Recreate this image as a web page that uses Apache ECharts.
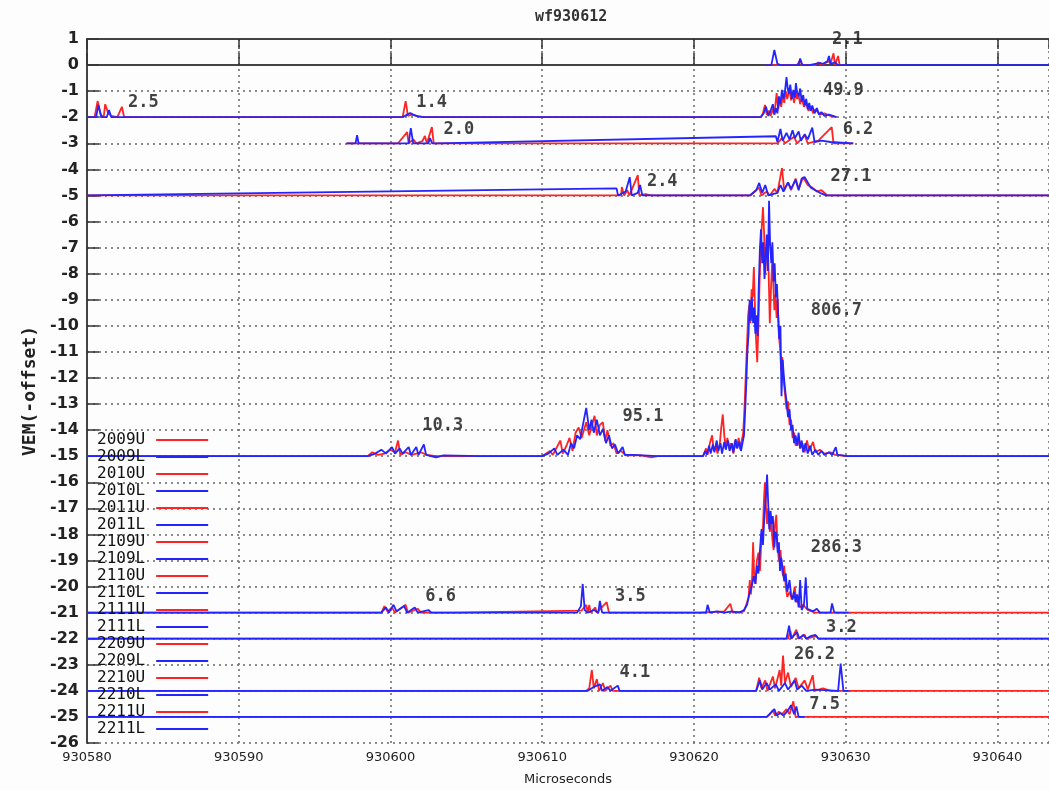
<!DOCTYPE html>
<html>
<head>
<meta charset="utf-8">
<script src="https://cdn.jsdelivr.net/npm/echarts@6/dist/echarts.min.js"></script>
<style>
html,body{margin:0;padding:0;background:#fff;}
#chart{width:1049px;height:791px;}
</style>
</head>
<body>
<div id="chart"></div>
<script>
// ---- station names (legend order) ----
const stations = ['2009','2010','2011','2109','2110','2111','2209','2210','2211'];

// ---- traces: [microseconds, VEM - offset] ----
const u2009 = [[930624.7,0],[930625.4,0],[930625.5,0.05],[930625.6,0],[930626.8,0],[930627.0,0.2],[930627.1,0],[930628.0,0],[930628.2,0.1],[930628.4,0],[930628.9,0.15],[930629.0,0.05],[930629.2,0.45],[930629.3,0],[930629.5,0.35],[930629.6,0],[930630.0,0]];
const l2009 = [[930624.7,0],[930625.1,0],[930625.3,0.58],[930625.5,0.05],[930625.7,0],[930626.9,0],[930627.0,0.25],[930627.15,0],[930627.6,0],[930628.0,0.05],[930628.3,0.08],[930628.5,0.05],[930628.8,0.15],[930628.9,0.35],[930629.0,0.05],[930629.3,0.1],[930629.5,0],[930644,0]];

const u2010 = [[930580,-2],[930580.5,-2],[930580.7,-1.38],[930580.9,-1.9],[930581.1,-2],[930581.2,-1.5],[930581.4,-1.85],[930581.6,-1.95],[930582.0,-2],[930582.3,-1.6],[930582.45,-2],[930582.6,-2],
  [930600.8,-2],[930601.0,-1.38],[930601.15,-1.95],[930601.4,-1.9],[930601.7,-1.95],[930602.2,-2],
  [930624.4,-2],[930624.55,-1.85],[930624.68,-1.53],[930624.8,-1.9],[930624.95,-1.75],[930625.05,-1.95],[930625.2,-1.7],[930625.3,-1.9],[930625.45,-1.07],[930625.55,-1.7],[930625.65,-1.4],[930625.75,-1.6],[930625.85,-1.2],[930625.95,-1.45],[930626.05,-1.0],[930626.15,-1.3],[930626.3,-0.9],[930626.4,-1.35],[930626.5,-1.1],[930626.6,-1.45],[930626.7,-1.0],[930626.8,-1.3],[930626.9,-1.15],[930627.0,-1.5],[930627.1,-1.25],[930627.25,-1.6],[930627.4,-1.45],[930627.55,-1.75],[930627.7,-1.6],[930627.85,-1.85],[930628.0,-1.7],[930628.3,-1.9],[930628.6,-1.85],[930629.0,-1.95],[930629.4,-2]];
const l2010 = [[930580,-2],[930580.6,-2],[930580.75,-1.53],[930580.95,-2],[930581.3,-2],[930581.45,-1.72],[930581.6,-2],[930582.6,-2],
  [930600.8,-2],[930601.1,-1.9],[930601.3,-1.84],[930601.5,-1.9],[930601.8,-1.97],[930602.2,-2],
  [930624.4,-2],[930624.6,-1.85],[930624.75,-1.6],[930624.9,-1.95],[930625.05,-1.75],[930625.2,-1.5],[930625.3,-1.9],[930625.4,-1.65],[930625.5,-1.85],[930625.6,-1.2],[930625.7,-1.5],[930625.8,-0.95],[930625.9,-1.3],[930626.0,-1.0],[930626.1,-0.46],[930626.18,-0.9],[930626.25,-1.1],[930626.35,-0.75],[930626.45,-1.3],[930626.55,-0.95],[930626.65,-1.25],[930626.72,-0.69],[930626.8,-1.05],[930626.9,-1.2],[930627.0,-0.9],[930627.1,-1.4],[930627.2,-1.15],[930627.3,-1.55],[930627.4,-1.3],[930627.5,-1.7],[930627.6,-1.45],[930627.7,-1.75],[930627.8,-1.55],[930627.95,-1.85],[930628.1,-1.65],[930628.25,-1.9],[930628.4,-1.8],[930628.6,-1.95],[930628.9,-1.9],[930629.4,-2]];

const u2011 = [[930597.1,-3],[930597.7,-3],[930598.2,-3],[930600.5,-3],[930601.1,-2.57],[930601.2,-3],[930601.5,-2.85],[930601.7,-3],[930602.1,-2.92],[930602.27,-2.72],[930602.4,-3],[930602.73,-2.38],[930602.85,-3],[930603.1,-3],
  [930625.5,-3],[930625.8,-2.8],[930626.0,-3],[930626.6,-2.75],[930626.8,-3],[930627.3,-2.7],[930627.5,-3],[930628.2,-2.9],[930629.08,-2.38],[930629.2,-3],[930630.5,-3]];
const l2011 = [[930597.1,-3],[930597.7,-3],[930597.8,-2.69],[930597.9,-3],[930601.2,-3],[930601.34,-2.42],[930601.5,-3],[930602.5,-3],[930602.6,-2.8],[930602.75,-3],[930603.1,-3],
  [930625.4,-2.73],[930625.5,-2.95],[930625.7,-2.45],[930625.85,-2.9],[930626.1,-2.6],[930626.3,-2.85],[930626.5,-2.5],[930626.65,-2.8],[930626.9,-2.55],[930627.05,-2.9],[930627.3,-2.65],[930627.5,-2.85],[930627.8,-2.4],[930627.95,-2.95],[930628.4,-2.9],[930629.0,-2.95],[930630.5,-3]];

const u2109 = [[930580,-5],[930615.2,-5],[930615.25,-4.68],[930615.4,-5],[930615.6,-4.8],[930615.75,-5],[930616.3,-4.22],[930616.4,-5],[930616.8,-4.95],[930617.2,-5],
  [930623.7,-5],[930624.0,-4.85],[930624.3,-4.7],[930624.45,-5],[930624.8,-4.85],[930625.0,-5],[930625.3,-4.75],[930625.5,-4.9],[930625.8,-3.95],[930625.95,-4.8],[930626.2,-4.5],[930626.4,-4.8],[930626.7,-4.35],[930626.9,-4.75],[930627.2,-4.3],[930627.5,-4.6],[930627.8,-4.7],[930628.1,-4.85],[930628.4,-4.8],[930628.8,-5],[930644,-5]];
const l2109 = [[930580,-5],[930614.9,-4.73],[930615.0,-5],[930615.5,-4.85],[930615.77,-4.3],[930615.9,-5],[930616.3,-4.9],[930616.45,-4.6],[930616.6,-5],[930617.2,-5],
  [930623.7,-5],[930624.1,-4.8],[930624.3,-4.52],[930624.5,-4.9],[930624.7,-4.6],[930624.9,-5],[930625.5,-4.9],[930625.7,-4.6],[930625.9,-4.85],[930626.2,-4.5],[930626.4,-4.75],[930626.7,-4.4],[930626.9,-4.8],[930627.1,-4.35],[930627.3,-4.3],[930627.5,-4.5],[930627.7,-4.7],[930628.0,-4.8],[930628.3,-4.9],[930628.7,-5],[930644,-5]];

const u2110 = [[930580,-15],[930598.5,-15],[930598.8,-14.85],[930599.2,-14.95],[930599.6,-14.9],[930600.0,-14.75],[930600.3,-14.85],[930600.5,-14.4],[930600.65,-14.95],[930601.0,-14.85],[930601.4,-14.95],[930602.0,-14.85],[930602.4,-14.95],[930603.0,-15],[930605.9,-15],
  [930610.0,-15],[930610.5,-14.8],[930610.7,-14.95],[930611.2,-14.4],[930611.35,-14.9],[930611.6,-14.6],[930611.8,-14.3],[930612.0,-14.8],[930612.2,-14.1],[930612.4,-13.9],[930612.6,-14.3],[930612.9,-13.7],[930613.1,-14.2],[930613.45,-13.45],[930613.6,-14.2],[930613.8,-13.8],[930614.0,-13.7],[930614.15,-14.4],[930614.3,-14.0],[930614.5,-14.6],[930614.7,-14.5],[930614.9,-14.9],[930615.2,-14.8],[930615.5,-14.97],[930616.5,-14.97],[930617.2,-15.05],[930617.6,-15],
  [930620.6,-15],[930620.8,-14.7],[930620.9,-14.95],[930621.05,-14.5],[930621.2,-14.2],[930621.3,-14.8],[930621.45,-14.6],[930621.55,-14.9],[930621.7,-14.55],[930621.8,-13.9],[930621.9,-13.4],[930622.0,-14.2],[930622.1,-14.7],[930622.2,-14.3],[930622.35,-14.75],[930622.45,-14.5],[930622.6,-14.9],[930622.7,-14.4],[930622.8,-14.7],[930622.95,-14.3],[930623.05,-14.75],[930623.15,-14.4],[930623.25,-14.1],[930623.35,-12.9],[930623.42,-11.8],[930623.5,-10.7],[930623.57,-9.6],[930623.65,-9.2],[930623.72,-9.9],[930623.8,-8.6],[930623.87,-8.9],[930623.95,-7.75],[930624.02,-9.3],[930624.1,-10.6],[930624.17,-11.4],[930624.25,-10.0],[930624.32,-8.4],[930624.4,-7.0],[930624.47,-6.2],[930624.55,-5.45],[930624.62,-6.4],[930624.7,-8.0],[930624.77,-7.2],[930624.85,-6.6],[930624.92,-7.9],[930625.0,-9.9],[930625.07,-8.7],[930625.15,-7.6],[930625.22,-8.2],[930625.3,-9.4],[930625.37,-8.8],[930625.45,-9.7],[930625.52,-9.0],[930625.6,-10.4],[930625.67,-10.8],[930625.75,-11.7],[930625.82,-11.2],[930625.9,-12.0],[930626.0,-12.6],[930626.1,-13.2],[930626.2,-12.9],[930626.3,-13.8],[930626.4,-13.6],[930626.5,-14.3],[930626.6,-14.1],[930626.7,-14.6],[930626.85,-14.3],[930627.0,-14.7],[930627.15,-14.5],[930627.3,-14.85],[930627.45,-14.4],[930627.6,-14.8],[930627.85,-14.45],[930628.0,-14.85],[930628.3,-14.75],[930628.6,-14.9],[930629.0,-14.85],[930629.3,-14.95],[930630.1,-15],[930644,-15]];
const l2110 = [[930580,-15],[930598.5,-15],[930599.0,-14.9],[930599.4,-14.75],[930599.7,-14.9],[930600.1,-14.65],[930600.3,-14.9],[930600.6,-14.7],[930600.8,-14.9],[930601.2,-14.65],[930601.35,-14.95],[930601.7,-14.65],[930601.85,-14.95],[930602.2,-14.55],[930602.35,-14.95],[930603.0,-15.05],[930603.5,-14.97],[930605.9,-15],
  [930610.0,-15],[930610.4,-14.9],[930610.8,-14.7],[930611.0,-14.95],[930611.4,-14.75],[930611.7,-14.95],[930611.9,-14.5],[930612.1,-14.7],[930612.3,-14.2],[930612.5,-14.35],[930612.7,-13.75],[930612.9,-13.15],[930613.1,-14.0],[930613.25,-13.6],[930613.4,-14.1],[930613.6,-13.6],[930613.8,-14.2],[930614.0,-13.95],[930614.2,-14.5],[930614.4,-14.2],[930614.6,-14.7],[930614.8,-14.55],[930615.0,-14.9],[930615.3,-14.65],[930615.45,-14.95],[930616.0,-14.95],[930617.6,-15],
  [930620.6,-15],[930620.75,-14.8],[930620.85,-14.95],[930621.0,-14.6],[930621.1,-14.9],[930621.25,-14.55],[930621.35,-14.85],[930621.5,-14.4],[930621.6,-14.8],[930621.75,-14.5],[930621.85,-14.9],[930622.0,-14.45],[930622.1,-14.75],[930622.25,-14.4],[930622.35,-14.8],[930622.5,-14.5],[930622.6,-14.85],[930622.75,-14.35],[930622.85,-14.7],[930623.0,-14.45],[930623.1,-14.8],[930623.2,-14.5],[930623.3,-14.2],[930623.38,-13.2],[930623.45,-12.2],[930623.52,-11.0],[930623.6,-10.3],[930623.67,-9.0],[930623.75,-9.8],[930623.82,-8.9],[930623.9,-9.9],[930623.97,-9.3],[930624.05,-10.3],[930624.12,-9.6],[930624.2,-10.4],[930624.27,-8.5],[930624.35,-7.0],[930624.42,-6.3],[930624.5,-7.6],[930624.57,-6.8],[930624.65,-8.2],[930624.72,-7.4],[930624.8,-6.5],[930624.87,-7.9],[930624.95,-5.2],[930625.02,-6.9],[930625.1,-7.6],[930625.17,-6.8],[930625.25,-8.3],[930625.32,-7.6],[930625.4,-8.9],[930625.47,-8.4],[930625.55,-9.6],[930625.62,-10.5],[930625.7,-10.0],[930625.77,-12.7],[930625.85,-11.3],[930625.92,-11.9],[930626.0,-12.4],[930626.1,-12.9],[930626.2,-13.5],[930626.3,-13.2],[930626.4,-14.0],[930626.5,-13.8],[930626.6,-14.5],[930626.7,-14.2],[930626.8,-14.6],[930626.9,-14.1],[930627.0,-14.7],[930627.1,-14.4],[930627.2,-14.85],[930627.35,-14.5],[930627.5,-14.9],[930627.65,-14.6],[930627.8,-14.95],[930628.0,-14.75],[930628.2,-14.95],[930628.4,-14.8],[930628.6,-14.95],[930628.9,-14.85],[930629.1,-14.95],[930629.35,-14.65],[930629.45,-14.95],[930629.8,-14.97],[930630.1,-15],[930644,-15]];

const u2111 = [[930580,-21],[930599.4,-21],[930599.6,-20.75],[930599.8,-20.95],[930600.1,-20.8],[930600.3,-21],[930601.0,-20.7],[930601.15,-21],[930601.8,-20.85],[930602.0,-21],[930604.2,-21],[930604.3,-20.95],[930612.6,-20.92],
  [930612.9,-20.7],[930613.0,-21],[930613.1,-20.7],[930613.2,-21],[930613.5,-20.8],[930613.6,-21],[930614.25,-20.6],[930614.4,-21],[930614.8,-21],
  [930620.4,-21],[930622.0,-20.95],[930622.4,-20.66],[930622.55,-21],[930623.3,-20.95],[930623.5,-20.6],[930623.6,-20.4],[930623.68,-19.75],[930623.75,-20.3],[930623.82,-19.9],[930623.9,-18.3],[930623.97,-19.6],[930624.05,-19.9],[930624.15,-19.0],[930624.25,-18.7],[930624.35,-19.4],[930624.45,-18.1],[930624.55,-17.7],[930624.62,-16.6],[930624.68,-16.0],[930624.75,-17.0],[930624.82,-17.6],[930624.9,-17.0],[930625.0,-17.9],[930625.1,-17.45],[930625.17,-18.2],[930625.25,-18.6],[930625.35,-17.6],[930625.43,-17.25],[930625.5,-18.4],[930625.6,-19.0],[930625.7,-18.6],[930625.8,-19.3],[930625.87,-19.6],[930625.95,-19.2],[930626.05,-20.0],[930626.15,-20.4],[930626.3,-20.2],[930626.45,-20.5],[930626.55,-20.3],[930626.64,-20.0],[930626.75,-20.6],[930626.85,-20.5],[930627.0,-20.8],[930627.2,-20.7],[930627.5,-20.9],[930628.0,-21],[930644,-21]];
const l2111 = [[930580,-21],[930599.4,-21],[930599.7,-20.8],[930599.9,-21],[930600.2,-20.7],[930600.4,-20.95],[930600.9,-20.75],[930601.1,-21],[930601.6,-20.8],[930601.8,-21],[930602.5,-20.9],[930602.7,-21],[930604.2,-21],
  [930612.3,-21],[930612.55,-20.75],[930612.67,-19.9],[930612.8,-20.9],[930613.0,-21],[930613.4,-20.9],[930613.7,-21],[930613.8,-20.55],[930613.95,-21],[930614.8,-21],
  [930620.4,-21],[930620.8,-21],[930620.9,-20.7],[930621.05,-21],[930621.5,-20.95],[930622.0,-21],[930622.5,-20.95],[930623.0,-21],[930623.3,-20.9],[930623.5,-20.7],[930623.65,-20.3],[930623.8,-20.0],[930623.95,-19.6],[930624.05,-19.9],[930624.15,-19.2],[930624.25,-19.5],[930624.35,-18.6],[930624.45,-17.8],[930624.55,-18.4],[930624.65,-17.2],[930624.75,-16.5],[930624.82,-15.7],[930624.9,-16.9],[930624.97,-17.8],[930625.05,-17.1],[930625.12,-17.6],[930625.2,-17.3],[930625.3,-18.5],[930625.37,-17.9],[930625.45,-18.0],[930625.52,-18.7],[930625.6,-18.3],[930625.67,-19.4],[930625.75,-18.9],[930625.85,-19.3],[930625.95,-19.8],[930626.05,-19.5],[930626.15,-20.2],[930626.3,-19.75],[930626.4,-20.3],[930626.5,-20.5],[930626.6,-20.2],[930626.7,-20.6],[930626.8,-20.3],[930626.9,-20.8],[930627.0,-19.75],[930627.1,-20.9],[930627.25,-20.7],[930627.37,-19.65],[930627.47,-20.85],[930627.6,-20.8],[930627.85,-20.95],[930628.1,-20.85],[930628.3,-21],[930629.0,-21],[930629.1,-20.65],[930629.25,-21],[930630.2,-21]];

const u2209 = [[930580,-22],[930626.2,-22],[930626.35,-21.7],[930626.45,-22],[930626.75,-21.65],[930626.85,-22],[930627.3,-21.85],[930627.4,-22],[930628.1,-21.9],[930628.2,-22],[930644,-22]];
const l2209 = [[930580,-22],[930626.1,-22],[930626.27,-21.5],[930626.4,-22],[930626.8,-21.75],[930626.95,-22],[930627.2,-21.85],[930627.4,-22],[930627.7,-21.9],[930628.0,-21.85],[930628.2,-22],[930644,-22]];

const u2210 = [[930580,-24],[930612.9,-24],[930613.1,-23.9],[930613.27,-23.2],[930613.4,-23.9],[930613.6,-23.55],[930613.75,-24],[930614.0,-23.7],[930614.15,-24],[930614.5,-23.8],[930614.65,-24],[930615.3,-24],
  [930624.1,-24],[930624.3,-23.5],[930624.45,-23.9],[930624.7,-23.6],[930624.85,-24],[930625.2,-23.45],[930625.35,-23.9],[930625.65,-23.2],[930625.75,-23.8],[930625.87,-22.65],[930626.0,-23.7],[930626.2,-23.3],[930626.4,-23.85],[930626.7,-23.5],[930626.9,-23.9],[930627.3,-23.6],[930627.5,-23.95],[930627.83,-23.4],[930627.95,-24],[930628.5,-23.9],[930629.0,-24],[930644,-24]];
const l2210 = [[930580,-24],[930613.0,-24],[930613.4,-23.85],[930613.8,-23.75],[930613.95,-24],[930614.3,-23.85],[930614.5,-24],[930614.98,-23.8],[930615.1,-24],
  [930624.1,-24],[930624.35,-23.6],[930624.5,-23.95],[930624.8,-23.7],[930625.0,-23.95],[930625.4,-23.75],[930625.6,-24],[930626.0,-23.7],[930626.2,-23.95],[930626.64,-23.6],[930626.8,-23.95],[930627.1,-23.8],[930627.4,-24],[930628.0,-23.95],[930629.5,-24],[930629.67,-22.95],[930629.85,-24],[930630.2,-24]];

const u2211 = [[930580,-25],[930624.8,-25],[930625.0,-24.9],[930625.2,-24.75],[930625.35,-24.95],[930625.6,-24.8],[930625.8,-24.9],[930626.1,-24.7],[930626.3,-24.9],[930626.55,-24.4],[930626.7,-25],[930644,-25]];
const l2211 = [[930580,-25],[930624.8,-25],[930625.3,-24.7],[930625.45,-24.95],[930625.7,-24.85],[930625.9,-24.95],[930626.2,-24.75],[930626.4,-24.55],[930626.6,-24.9],[930626.75,-24.6],[930626.9,-25],[930627.3,-25]];

// ---- annotation values (integrated signal) and their anchor in data units ----
const noteTexts  = ['2.1','49.9','2.5','1.4','2.0','6.2','2.4','27.1','806.7','10.3','95.1','286.3','6.6','3.5','3.2','26.2','4.1','7.5'];
const noteTimes  = [930629.1,930628.5,930582.7,930601.7,930603.5,930629.8,930616.9,930629.0,930627.7,930602.1,930615.3,930627.7,930602.3,930614.8,930628.7,930626.6,930615.1,930627.6];
const noteLevels = [0.96,-0.96,-1.45,-1.45,-2.49,-2.49,-4.45,-4.29,-9.43,-13.81,-13.5,-18.52,-20.37,-20.4,-21.59,-22.59,-23.28,-24.51];

// ---- axis ticks ----
const xMin = 930580, xMax = 930643.4, xStep = 10;
const yMin = -26, yMax = 1, yStep = 1;

const traces = {
  '2009U':u2009,'2009L':l2009,'2010U':u2010,'2010L':l2010,'2011U':u2011,'2011L':l2011,
  '2109U':u2109,'2109L':l2109,'2110U':u2110,'2110L':l2110,'2111U':u2111,'2111L':l2111,
  '2209U':u2209,'2209L':l2209,'2210U':u2210,'2210L':l2210,'2211U':u2211,'2211L':l2211
};

const RED = '#ff2424', BLUE = '#2424ff';
const names = [];
const series = [];
stations.forEach(s => {
  ['U','L'].forEach(k => {
    const n = s + k;
    names.push(n);
    series.push({
      name: n, type: 'line', data: traces[n], showSymbol: false, symbol: 'none',
      xAxisIndex: 0, yAxisIndex: 0,
      lineStyle: { width: 1.8, color: k === 'U' ? RED : BLUE },
      itemStyle: { color: k === 'U' ? RED : BLUE },
      animation: false, silent: true, clip: true
    });
  });
});
series.push({
  name: 'notes', type: 'scatter', symbolSize: 0, silent: true, animation: false,
  data: noteTexts.map((t, i) => ({ name: t, value: [noteTimes[i], noteLevels[i]] })),
  label: {
    show: true, position: 'right', distance: 0, formatter: '{b}',
    fontFamily: 'DejaVu Sans Mono', fontSize: 17, fontWeight: 'bold', color: '#111'
  }
});

const chart = echarts.init(document.getElementById('chart'), null, { renderer: 'canvas' });
chart.setOption({
  backgroundColor: '#fdfdfd',
  animation: false,
  title: {
    text: 'wf930612', left: 530, top: 5,
    textStyle: { fontFamily: 'DejaVu Sans Mono', fontSize: 15, fontWeight: 'bold', color: '#333' }
  },
  grid: { left: 87, right: 0, top: 39, bottom: 48, containLabel: false },
  legend: {
    data: names, orient: 'vertical', left: 92, top: 427, align: 'right',
    icon: 'rect', itemWidth: 52, itemHeight: 2, itemGap: 1, selectedMode: false,
    textStyle: { fontFamily: 'DejaVu Sans Mono', fontSize: 16, color: '#111', padding: [0, 6, 0, 0] }
  },
  xAxis: [{
    type: 'value', min: xMin, max: xMax, interval: xStep, position: 'bottom',
    name: 'Microseconds', nameLocation: 'middle', nameGap: 30,
    nameTextStyle: { fontFamily: 'DejaVu Sans', fontSize: 13, color: '#222' },
    axisLine: { show: true, lineStyle: { color: '#444', width: 2 } },
    axisTick: { show: true, inside: true, length: 12, lineStyle: { color: '#333', width: 1.5 } },
    axisLabel: { showMaxLabel: false, margin: 8, formatter: v => String(v), fontFamily: 'DejaVu Sans', fontSize: 13, color: '#222' },
    splitLine: { show: true, lineStyle: { color: '#666', type: [2, 4], width: 1.5 } }
  }, {
    type: 'value', min: xMin, max: xMax, interval: xStep, position: 'top',
    axisLine: { show: true, lineStyle: { color: '#444', width: 2 } },
    axisTick: { show: true, inside: true, length: 10, lineStyle: { color: '#333', width: 1.5 } },
    axisLabel: { show: false }, splitLine: { show: false }
  }],
  yAxis: [{
    type: 'value', min: yMin, max: yMax, interval: yStep,
    name: 'VEM(-offset)', nameLocation: 'middle', nameGap: 48, nameRotate: 90,
    nameTextStyle: { fontFamily: 'DejaVu Sans Mono', fontSize: 18, fontWeight: 'bold', color: '#222' },
    axisLine: { show: true, lineStyle: { color: '#444', width: 2 } },
    axisTick: { show: true, inside: true, length: 12, lineStyle: { color: '#333', width: 1.5 } },
    axisLabel: { margin: 8, fontFamily: 'DejaVu Sans', fontSize: 16, fontWeight: 'bold', color: '#222' },
    splitLine: { show: true, lineStyle: { color: '#666', type: [2, 4], width: 1.5 } }
  }],
  series: series
});
</script>
</body>
</html>
